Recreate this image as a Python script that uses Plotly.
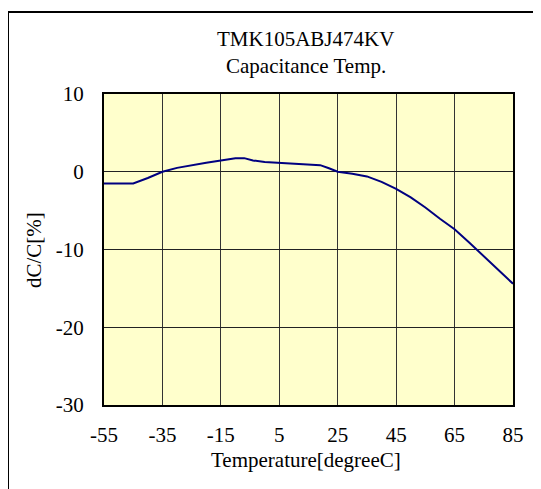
import plotly.graph_objects as go

# Data
temperature = [-55, -50, -45, -40, -35, -30, -25, -20, -15, -10, -7, -4, 0, 5, 10, 15, 19, 22, 25,
               30, 35, 40, 45, 50, 55, 60, 65, 70, 75, 80, 85]
dc_c = [-1.5, -1.5, -1.5, -0.8, 0.0, 0.5, 0.85, 1.15, 1.45, 1.75, 1.75, 1.45, 1.25, 1.15, 1.1, 0.95, 0.85, 0.45, 0.0,
        -0.25, -0.6, -1.3, -2.2, -3.3, -4.6, -6.05, -7.4, -9.1, -10.9, -12.6, -14.4]

x_ticks = [-55, -35, -15, 5, 25, 45, 65, 85]
y_ticks = [-30, -20, -10, 0, 10]

title_lines = ["TMK105ABJ474KV", "Capacitance Temp."]
x_title = "Temperature[degreeC]"
y_title = "dC/C[%]"

OFF = 8  # page body margin
W, H = 541 - OFF, 489 - OFF
L, T = 104 - OFF, 94 - OFF
R = W - (513 - OFF)
B = H - (405 - OFF)
pw, ph = W - L - R, H - T - B


def px(x):
    return (x - OFF - L) / pw


def py(y):
    return (H - B - (y - OFF)) / ph


FONT = "Liberation Serif"

fig = go.Figure()
fig.add_trace(go.Scatter(x=temperature, y=dc_c, mode="lines",
                         line=dict(color="#000080", width=2), showlegend=False))

fig.update_layout(
    width=W, height=H,
    margin=dict(l=L, r=R, t=T, b=B),
    paper_bgcolor="white",
    plot_bgcolor="#FFFFCC",
    font=dict(family=FONT, size=21, color="black"),
    xaxis=dict(range=[-55, 85], tickvals=x_ticks, ticktext=[str(v) for v in x_ticks],
               showgrid=True, gridcolor="#333333", gridwidth=1, zeroline=False,
               showline=True, linecolor="black", linewidth=2, mirror=True,
               ticks="", ticklabelstandoff=10, tickfont=dict(family=FONT, size=21)),
    yaxis=dict(range=[-30, 10], tickvals=y_ticks, ticktext=[str(v) for v in y_ticks],
               showgrid=True, gridcolor="#222222", gridwidth=1, zeroline=False,
               showline=True, linecolor="black", linewidth=2, mirror=True,
               ticks="", ticklabelstandoff=14, tickfont=dict(family=FONT, size=21)),
    shapes=[dict(type="rect", xref="paper", yref="paper",
                 x0=px(8), x1=px(620), y0=py(560), y1=py(12),
                 line=dict(color="black", width=2), fillcolor="rgba(0,0,0,0)", layer="below")],
    annotations=[
        dict(text=title_lines[0], xref="paper", yref="paper", x=px(305), y=py(39),
             xanchor="center", yanchor="middle", showarrow=False, font=dict(family=FONT, size=21)),
        dict(text=title_lines[1], xref="paper", yref="paper", x=px(306), y=py(66),
             xanchor="center", yanchor="middle", showarrow=False, font=dict(family=FONT, size=21)),
        dict(text=x_title, xref="paper", yref="paper", x=px(306), y=py(460),
             xanchor="center", yanchor="middle", showarrow=False, font=dict(family=FONT, size=21)),
        dict(text=y_title, xref="paper", yref="paper", x=px(34), y=py(250),
             xanchor="center", yanchor="middle", showarrow=False, textangle=-90,
             font=dict(family=FONT, size=21)),
    ],
)

fig.write_html("out.html")
